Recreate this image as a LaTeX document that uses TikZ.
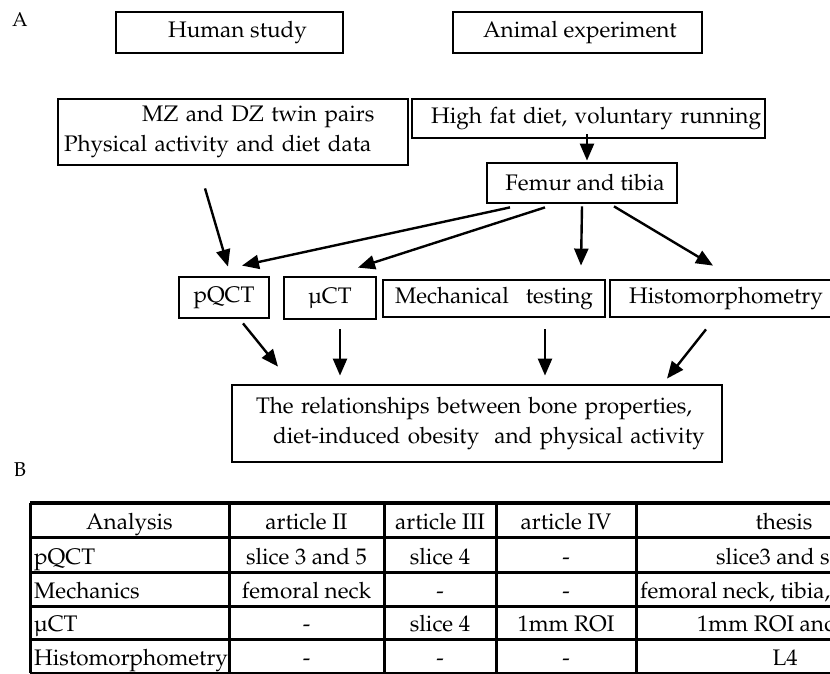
\documentclass[tikz,border=0pt]{standalone}
\usepackage[T1]{fontenc}
\usepackage{mathpazo}
\usetikzlibrary{arrows.meta}
\newcommand*{\flowfont}{\fontsize{22.5}{30}\selectfont}
\newcommand*{\tabfont}{\fontsize{22.5}{27}\selectfont}

\begin{document}
\begin{tikzpicture}[x=1pt, y=-1pt,
  box/.style={draw, line width=2.8pt, inner sep=0pt, font=\flowfont},
  arr/.style={line width=2.4pt, -{Triangle[length=17pt,width=14pt]}},
  gridline/.style={line width=3pt},
  cell/.style={font=\tabfont, anchor=base, inner sep=0pt},
  rowlabel/.style={cell, anchor=base west}]

\useasboundingbox (0,0) rectangle (830,674);
\clip (0,0) rectangle (830,674);

% Panel labels
\node[font=\fontsize{20}{24}\selectfont] (labA) at (20,20)  {A};
\node[font=\fontsize{20}{24}\selectfont] (labB) at (20,470) {B};

% Study types
\node[box, minimum width=227pt, minimum height=41pt] (human)  at (229.5,32.5) {\hspace*{16pt}Human study};
\node[box, minimum width=249pt, minimum height=41pt] (animal) at (577.5,32.5) {\hspace*{5pt}Animal experiment};

% Subjects and material
\node[box, minimum width=350pt, minimum height=66pt, text width=338pt, align=left] (twins) at (233,132)
  {\hspace*{78pt}MZ and DZ twin pairs\\Physical activity and diet data};
\node[box, minimum width=353pt, minimum height=39pt, text width=345pt, align=right] (diet) at (588.5,118.5)
  {High fat diet, voluntary running};
\node[box, minimum width=190pt, minimum height=40pt] (bones) at (582,183) {\hspace*{6pt}Femur and tibia};

% Methods
\node[box, minimum width=90pt,  minimum height=41pt] (pqct)  at (224,297.5) {pQCT};
\node[box, minimum width=92pt,  minimum height=42pt] (muct)  at (330,298)   {\textmu CT};
\node[box, minimum width=222pt, minimum height=37pt] (mech)  at (494,298.5) {Mechanical\ \ \ testing};
\node[box, minimum width=232pt, minimum height=37pt] (histo) at (726,298.5) {Histomorphometry};

% Outcome
\node[box, minimum width=490pt, minimum height=77pt, text width=476pt, align=left] (result) at (477,423.5)
  {\hspace*{17pt}The relationships between bone properties,\\\hspace*{34pt}diet-induced obesity\ \ and physical activity};

% Arrows into the methods
\draw[arr] ([xshift=-1.5pt,yshift=5pt]diet.south) -- ([xshift=5pt,yshift=1pt]bones.north);
\draw[arr] ([xshift=-28pt,yshift=-22pt]twins.south) -- ([xshift=4pt,yshift=9pt]pqct.north);
\draw[arr] ([xshift=-72pt,yshift=-3pt]bones.south) -- ([xshift=18pt,yshift=10pt]pqct.north);
\draw[arr] ([xshift=-37pt,yshift=-3pt]bones.south) -- ([xshift=28pt,yshift=8pt]muct.north);
\draw[arr] ([yshift=-2pt]bones.south)              -- ([xshift=87pt,yshift=13pt]mech.north);
\draw[arr] ([xshift=32pt,yshift=-2pt]bones.south)  -- ([xshift=-13pt,yshift=13pt]histo.north);

% Arrows into the outcome
\draw[arr] ([xshift=19pt,yshift=-4pt]pqct.south)   -- ([xshift=-199pt,yshift=17pt]result.north);
\draw[arr] ([xshift=10pt,yshift=-9pt]muct.south)   -- ([xshift=-137pt,yshift=8pt]result.north);
\draw[arr] ([xshift=51pt,yshift=-11pt]mech.south)  -- ([xshift=68pt,yshift=8pt]result.north);
\draw[arr] ([xshift=-20pt,yshift=-11pt]histo.south) -- ([xshift=190pt,yshift=5pt]result.north);

% Table grid
\draw[line width=3.5pt] (30,503) -- (840,503);
\foreach \y in {537.5,572.5,606,639.5,673}
  \draw[gridline] (30,\y) -- (840,\y);
\foreach \x in {30,229,384,496,636}
  \draw[gridline] (\x,503) -- (\x,673);

% Header row
\foreach \x/\t [count=\i] in {129.5/Analysis, 306.5/article II, 440/article III, 566/article IV, 784/thesis}
  \node[cell] (head\i) at (\x,529.5) {\t};

% pQCT row
\node[rowlabel] (lab1) at (34,564.5)  {pQCT};
\node[cell]     (c12)  at (306.5,564.5) {slice 3 and 5};
\node[cell]     (c13)  at (440,564.5)   {slice 4};
\node[cell]     (c14)  at (566,564.5)   {-};
\node[rowlabel] (c15)  at (716,564.5)   {slice3 and s};

% Mechanics row
\node[rowlabel] (lab2) at (34,598)    {Mechanics};
\node[cell]     (c22)  at (306.5,598) {femoral neck};
\node[cell]     (c23)  at (440,598)   {-};
\node[cell]     (c24)  at (566,598)   {-};
\node[rowlabel] (c25)  at (640,598)   {femoral neck, tibia,};

% muCT row
\node[rowlabel] (lab3) at (34,631.5)    {\textmu CT};
\node[cell]     (c32)  at (306.5,631.5) {-};
\node[cell]     (c33)  at (440,631.5)   {slice 4};
\node[cell]     (c34)  at (566,631.5)   {1mm ROI};
\node[rowlabel] (c35)  at (697,631.5)   {1mm ROI and};

% Histomorphometry row
\node[rowlabel] (lab4) at (34,665)    {Histomorphometry};
\node[cell]     (c42)  at (306.5,665) {-};
\node[cell]     (c43)  at (440,665)   {-};
\node[cell]     (c44)  at (566,665)   {-};
\node[cell]     (c45)  at (785,665)   {L4};

\end{tikzpicture}
\end{document}
